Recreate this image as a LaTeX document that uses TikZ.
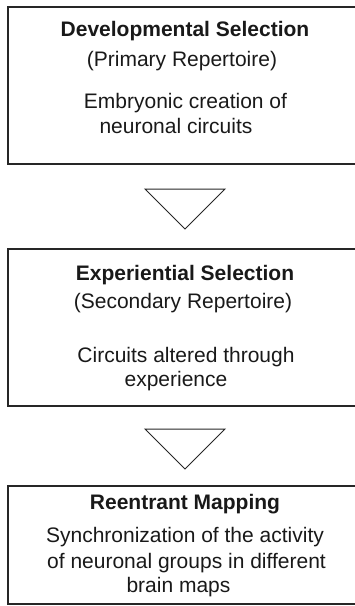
\documentclass[tikz,border=0pt]{standalone}
\usepackage{fontspec}
\setmainfont{Liberation Sans}
\begin{document}
\begin{tikzpicture}[x=1pt,y=-1pt,
  stagebox/.style={draw=black!85, line width=1.5pt, fill=none, inner sep=0pt},
  txt/.style={anchor=base, inner sep=0pt, font=\fontsize{21}{26}\selectfont, text=black!90},
  ttl/.style={txt, font=\fontsize{21}{26}\selectfont\bfseries},
  tri/.style={draw=black!85, line width=1pt, line join=miter}]
\useasboundingbox (0,0) rectangle (355,606);
\clip (0,0) rectangle (355,606);
% boxes
\node[stagebox, minimum width=354pt, minimum height=157pt] (b1) at (185,85.5) {};
\node[stagebox, minimum width=354pt, minimum height=157pt] (b2) at (185,327.5) {};
\node[stagebox, minimum width=354pt, minimum height=118pt] (b3) at (185,545) {};
% box 1 text
\node[ttl] (t1a) at (185,36.5) {Developmental Selection};
\node[txt] (t1b) at (182,66) {(Primary Repertoire)};
\node[txt] (t1c) at (185.5,108) {Embryonic creation of};
\node[txt] (t1d) at (176,133) {neuronal circuits};
% box 2 text
\node[ttl] (t2a) at (185,280) {Experiential Selection};
\node[txt] (t2b) at (183,308) {(Secondary Repertoire)};
\node[txt] (t2c) at (186,362) {Circuits altered through};
\node[txt] (t2d) at (176,386) {experience};
% box 3 text
\node[ttl] (t3a) at (185,509) {Reentrant Mapping};
\node[txt] (t3b) at (185,542) {Synchronization of the activity};
\node[txt] (t3c) at (186.5,568) {of neuronal groups in different};
\node[txt] (t3d) at (178.5,592) {brain maps};
% triangles
\draw[tri] (145,189) -- (225,189) -- (185,229) -- cycle;
\draw[tri] (145,429) -- (225,429) -- (185,469) -- cycle;
\end{tikzpicture}
\end{document}
